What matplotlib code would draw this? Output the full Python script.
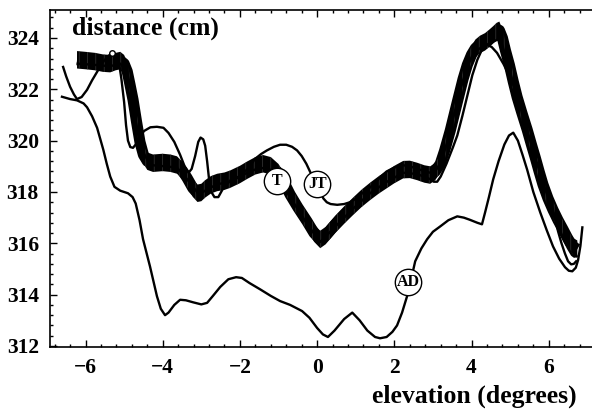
import numpy as np
import matplotlib
matplotlib.use("Agg")
import matplotlib.pyplot as plt
from matplotlib.ticker import MultipleLocator, AutoMinorLocator

plt.rcParams['font.family'] = ['Liberation Serif', 'DejaVu Serif']
plt.rcParams['font.weight'] = 'bold'
plt.rcParams['hatch.linewidth'] = 0.4

# thick band (family of fits)
band_x = [-6.22, -6.00, -5.75, -5.55, -5.36, -5.22, -5.10, -5.00, -4.92, -4.85,
          -4.77, -4.68, -4.59, -4.50, -4.40, -4.25, -4.00, -3.80, -3.63, -3.50,
          -3.37, -3.22, -3.10, -3.00, -2.90, -2.75, -2.59, -2.40, -2.25, -2.00,
          -1.81, -1.60, -1.40, -1.20, -1.00, -0.85, -0.70, -0.50, -0.26, -0.08,
          0.08, 0.22, 0.47, 0.70, 0.93, 1.15, 1.37, 1.60, 1.81, 2.00,
          2.23, 2.40, 2.59, 2.78, 2.93, 3.06, 3.19, 3.30, 3.45, 3.63,
          3.78, 3.89, 4.00, 4.10, 4.22, 4.35, 4.47, 4.56, 4.65, 4.72,
          4.80, 4.88, 4.98, 5.08, 5.18, 5.30, 5.44, 5.55, 5.65, 5.75,
          5.85, 5.98, 6.11, 6.24, 6.37, 6.47, 6.55, 6.65, 6.74]
band_y = [323.15, 323.12, 323.08, 323.02, 323.00, 323.08, 323.12, 323.00, 322.70, 322.20,
          321.60, 320.75, 319.95, 319.45, 319.20, 319.12, 319.15, 319.12, 319.05, 318.85,
          318.55, 318.15, 317.95, 317.98, 318.12, 318.28, 318.37, 318.42, 318.50, 318.68,
          318.85, 319.02, 319.10, 319.02, 318.75, 318.35, 317.90, 317.40, 316.85, 316.40,
          316.15, 316.30, 316.74, 317.10, 317.44, 317.75, 318.02, 318.28, 318.49, 318.68,
          318.87, 318.88, 318.80, 318.70, 318.66, 318.80, 319.10, 319.60, 320.40, 321.50,
          322.40, 322.95, 323.35, 323.60, 323.75, 323.85, 324.00, 324.12, 324.25, 324.30,
          324.00, 323.50, 322.95, 322.30, 321.70, 321.10, 320.43, 319.85, 319.34, 318.80,
          318.29, 317.75, 317.30, 316.90, 316.54, 316.25, 316.04, 315.85, 315.77]

# curve T
t_x = [-6.20, -5.75, -5.36, -5.10, -4.92, -4.77, -4.59, -4.33, -3.94, -3.63,
       -3.37, -3.06, -2.85, -2.59, -2.25, -1.81, -1.48, -1.17, -0.70, -0.26,
       0.08, 0.47, 0.93, 1.37, 1.81, 2.23, 2.59, 2.93, 3.02, 3.11,
       3.20, 3.35, 3.52, 3.63, 3.76, 3.89, 4.02, 4.15, 4.27, 4.40,
       4.52, 4.66, 4.83, 5.00, 5.17, 5.34, 5.52, 5.65, 5.78, 5.91,
       6.04, 6.14, 6.24, 6.33, 6.42, 6.50, 6.58, 6.65, 6.71]
t_y = [323.00, 322.95, 322.90, 323.00, 322.70, 321.50, 319.80, 319.05, 319.00, 318.95,
       318.50, 317.90, 318.10, 318.30, 318.40, 318.75, 318.95, 318.85, 317.80, 316.75,
       316.05, 316.65, 317.35, 317.95, 318.40, 318.75, 318.70, 318.50, 318.40, 318.40,
       318.60, 319.10, 319.75, 320.20, 320.95, 321.75, 322.55, 323.15, 323.55, 323.73,
       323.65, 323.42, 322.98, 322.45, 321.85, 321.20, 320.40, 319.75, 319.07, 318.40,
       317.71, 317.10, 316.47, 316.00, 315.60, 315.30, 315.18, 315.20, 315.30]

# curve JT
jt_x = [-6.58, -6.50, -6.40, -6.30, -6.22, -6.10, -5.96, -5.83, -5.70, -5.55,
        -5.44, -5.31, -5.20, -5.13, -5.07, -5.00, -4.95, -4.90, -4.84, -4.77,
        -4.70, -4.60, -4.48, -4.32, -4.15, -3.98, -3.85, -3.70, -3.55, -3.42,
        -3.33, -3.25, -3.16, -3.08, -3.02, -2.95, -2.90, -2.85, -2.80, -2.74,
        -2.66, -2.56, -2.45, -2.25, -2.00, -1.80, -1.60, -1.45, -1.30, -1.12,
        -0.96, -0.80, -0.65, -0.52, -0.40, -0.28, -0.18, -0.08, 0.00, 0.08,
        0.16, 0.25, 0.35, 0.52, 0.70, 0.85, 1.02, 1.19, 1.35, 1.50,
        1.65, 1.80, 2.00, 2.20, 2.40, 2.60, 2.80, 2.93, 3.08, 3.20,
        3.30, 3.40, 3.52, 3.65, 3.78, 3.90, 4.00, 4.10, 4.22, 4.35,
        4.45, 4.55, 4.65, 4.72, 4.80, 4.92, 5.05, 5.20, 5.32, 5.45,
        5.58, 5.70, 5.80, 5.90, 6.02, 6.15, 6.28, 6.40, 6.50, 6.60,
        6.66, 6.72]
jt_y = [322.87, 322.50, 322.10, 321.80, 321.62, 321.70, 321.98, 322.35, 322.68, 323.05,
        323.26, 323.42, 323.30, 323.00, 322.40, 321.50, 320.60, 320.00, 319.75, 319.72,
        319.85, 320.15, 320.38, 320.52, 320.54, 320.50, 320.30, 319.95, 319.45, 318.95,
        318.75, 318.90, 319.40, 319.95, 320.12, 320.05, 319.80, 319.20, 318.50, 318.00,
        317.80, 317.80, 318.10, 318.45, 318.62, 318.90, 319.30, 319.48, 319.62, 319.76,
        319.84, 319.84, 319.76, 319.62, 319.40, 319.10, 318.78, 318.55, 318.37, 318.05,
        317.75, 317.60, 317.53, 317.50, 317.53, 317.60, 317.75, 317.98, 318.15, 318.35,
        318.60, 318.80, 318.95, 319.05, 319.00, 318.90, 318.80, 318.75, 318.85, 319.15,
        319.60, 320.10, 320.85, 321.65, 322.35, 322.90, 323.25, 323.50, 323.60, 323.70,
        323.78, 323.85, 323.92, 323.95, 323.70, 323.10, 322.40, 321.65, 321.00, 320.35,
        319.70, 319.10, 318.60, 318.15, 317.60, 317.05, 316.55, 316.10, 315.80, 315.55,
        315.48, 315.50]

# curve AD
ad_x = [-6.61, -6.40, -6.22, -6.05, -5.96, -5.83, -5.70, -5.54, -5.45, -5.36,
        -5.25, -5.10, -4.90, -4.78, -4.70, -4.60, -4.51, -4.33, -4.15, -4.05,
        -3.94, -3.85, -3.70, -3.55, -3.40, -3.21, -3.00, -2.85, -2.70, -2.51,
        -2.30, -2.10, -1.95, -1.75, -1.48, -1.20, -0.96, -0.70, -0.39, -0.20,
        0.00, 0.15, 0.28, 0.45, 0.70, 0.91, 1.10, 1.30, 1.50, 1.63,
        1.80, 1.95, 2.07, 2.20, 2.33, 2.45, 2.54, 2.70, 2.85, 3.00,
        3.19, 3.40, 3.63, 3.80, 3.95, 4.15, 4.27, 4.35, 4.45, 4.56,
        4.70, 4.85, 4.97, 5.08, 5.20, 5.32, 5.44, 5.60, 5.78, 5.95,
        6.11, 6.27, 6.42, 6.52, 6.61, 6.70, 6.76, 6.82, 6.87]
ad_y = [321.71, 321.62, 321.57, 321.45, 321.30, 320.95, 320.50, 319.65, 319.10, 318.60,
        318.20, 318.05, 317.95, 317.80, 317.55, 316.90, 316.16, 315.10, 313.94, 313.45,
        313.20, 313.30, 313.60, 313.80, 313.78, 313.70, 313.62, 313.68, 313.95, 314.30,
        314.60, 314.68, 314.65, 314.45, 314.21, 313.95, 313.75, 313.60, 313.36, 313.10,
        312.70, 312.45, 312.35, 312.60, 313.05, 313.30, 313.00, 312.60, 312.35, 312.30,
        312.35, 312.55, 312.80, 313.30, 313.94, 314.70, 315.30, 315.80, 316.16, 316.45,
        316.66, 316.90, 317.05, 317.00, 316.92, 316.80, 316.74, 317.20, 317.80, 318.49,
        319.20, 319.85, 320.20, 320.31, 320.00, 319.45, 318.87, 318.00, 317.20, 316.50,
        315.88, 315.40, 315.07, 314.93, 314.91, 315.05, 315.35, 315.90, 316.62]

labels = ['T', 'JT', 'AD']
label_x = [-1.04, 0.0, 2.36]
label_y = [318.41, 318.33, 314.49]

fig = plt.figure(figsize=(5.92, 4.11), dpi=100)
ax = fig.add_axes([50 / 592, 64 / 411, 542 / 592, 337 / 411])

# the band: thick stroke plus a textured fill
ax.plot(band_x, band_y, color='black', lw=8, solid_capstyle='butt',
        solid_joinstyle='round')
ax.fill_between(band_x, np.array(band_y) - 0.34, np.array(band_y) + 0.34,
                facecolor='black', edgecolor='0.28', hatch='||', linewidth=0,
                zorder=2.5)

ax.plot(t_x, t_y, color='black', lw=1.7, zorder=3)
ax.plot(jt_x, jt_y, color='black', lw=1.7, marker='o', markevery=[11], ms=4,
        mfc='white', mec='black', mew=1, zorder=3)
ax.plot(ad_x, ad_y, color='black', lw=1.7, zorder=3)

for lab, lx, ly in zip(labels, label_x, label_y):
    ax.plot(lx, ly, marker='o', ms=19, mfc='white', mec='black', mew=1, zorder=5)
    ax.text(lx, ly, lab, ha='center', va='center', fontsize=11.5,
            fontweight='bold', zorder=6)

ax.set_xlim(-6.92, 7.12)
ax.set_ylim(311.96, 325.09)
ax.xaxis.set_major_locator(MultipleLocator(2))
ax.yaxis.set_major_locator(MultipleLocator(2))
ax.xaxis.set_minor_locator(AutoMinorLocator(5))
ax.yaxis.set_minor_locator(AutoMinorLocator(5))
ax.tick_params(which='both', direction='in', top=True, right=False,
               labelsize=15.5, width=1)
ax.tick_params(which='major', length=5, pad=8)
ax.tick_params(which='minor', length=2.5)
ax.spines['right'].set_visible(False)
for s in ['left', 'bottom', 'top']:
    ax.spines[s].set_linewidth(1.2)

fig.text(72 / 592, 1 - 35 / 411, 'distance (cm)', fontsize=18.5,
         fontweight='bold', va='baseline', ha='left')
fig.text(372 / 592, 1 - 403 / 411, 'elevation (degrees)', fontsize=18.5,
         fontweight='bold', va='baseline', ha='left')

fig.savefig('out.png', dpi=100)
